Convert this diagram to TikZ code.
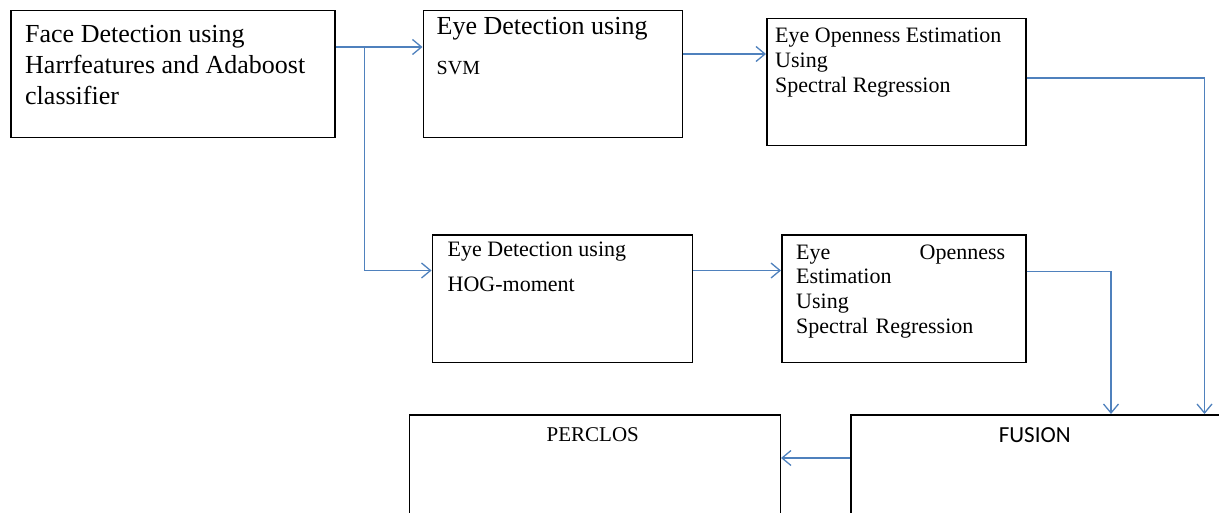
\documentclass[tikz,border=0pt]{standalone}
\usepackage{fontspec}
\setmainfont{Liberation Serif}
\newfontfamily\calibri{Carlito}
\usetikzlibrary{arrows.meta,positioning}
\definecolor{wordblue}{RGB}{79,129,189}

\begin{document}
\begin{tikzpicture}[x=1pt,y=1pt,>={Straight Barb[length=9pt,width=15pt]}]
	\tikzset{block/.style={draw, line width=1.5pt, inner sep=0, minimum height=127pt},
		txt/.style={align=left, inner sep=0},
		link/.style={->, draw=wordblue, line width=1.3pt},
	}
	\useasboundingbox (0,0) rectangle (1219,-513);
	\clip (0,0) rectangle (1219,-513);
	\node [block, minimum width=324pt, anchor=north west] (face) at (10,-10) {};
	\node [block, minimum width=259pt, right=87pt of face.north east, anchor=north west] (svm) {};
	\node [block, minimum width=259pt, right=83pt of svm.north east, anchor=north west, yshift=-8pt] (open1) {};
	\node [block, minimum width=260pt, below right=96pt and 9pt of svm.south west] (hog) {};
	\node [block, minimum width=244pt, right=88pt of hog.north east, anchor=north west] (open2) {};
	\node [block, minimum width=370pt, minimum height=140pt, below right=51pt and 69pt of open2.south west] (fuse) {};
	\node [block, minimum width=371pt, minimum height=140pt, left=69pt of fuse.north west, anchor=north east] (perc) {};
	\node [txt, font=\fontsize{26}{31}\selectfont, below right=15pt and 15pt of face.north west] (t-face) {Face Detection using\\Harrfeatures and Adaboost\\classifier};
	\node [txt, font=\fontsize{26}{40}\selectfont, below right=7pt and 14pt of svm.north west] (t-svm) {Eye Detection using\\{\fontsize{20}{24}\selectfont SVM}};
	\node [txt, font=\fontsize{22}{25}\selectfont, below right=10pt and 9pt of open1.north west] (t-open1) {Eye Openness Estimation\\Using\\Spectral Regression};
	\node [txt, font=\fontsize{22}{35}\selectfont, below right=7pt and 16pt of hog.north west] (t-hog) {Eye Detection using\\HOG-moment};
	\node [txt, text width=209pt, font=\fontsize{22}{24.7}\selectfont, below right=10pt and 15pt of open2.north west] (t-open2) {Eye\hspace{\fill}Openness\\Estimation\\Using\\Spectral Regression};
	\node [inner sep=0, font=\fontsize{21}{25}\selectfont, below=21pt of perc.north, anchor=center, xshift=-2pt] (t-perc) {PERCLOS};
	\node [inner sep=0, font=\calibri\fontsize{23}{27}\selectfont, below=21pt of fuse.north, anchor=center, xshift=-1pt] (t-fuse) {FUSION};
	% connectors
	\coordinate (split) at ([xshift=29pt,yshift=-37pt]face.north east);
	\draw [link] ([yshift=-37pt]face.north east) -- ([yshift=-37pt]svm.north west);
	\draw [link] (split) |- ([yshift=-36pt]hog.north west);
	\draw [link] ([yshift=-44pt]svm.north east) -- ([yshift=-36pt]open1.north west);
	\draw [link] ([yshift=-60pt]open1.north east) -| ([xshift=-17pt]fuse.north east);
	\draw [link] ([yshift=-36pt]hog.north east) -- ([yshift=-36pt]open2.north west);
	\draw [link] ([yshift=-37pt]open2.north east) -| ([xshift=261pt]fuse.north west);
	\draw [link] ([yshift=-44pt]fuse.north west) -- ([yshift=-44pt]perc.north east);
\end{tikzpicture}
\end{document}
